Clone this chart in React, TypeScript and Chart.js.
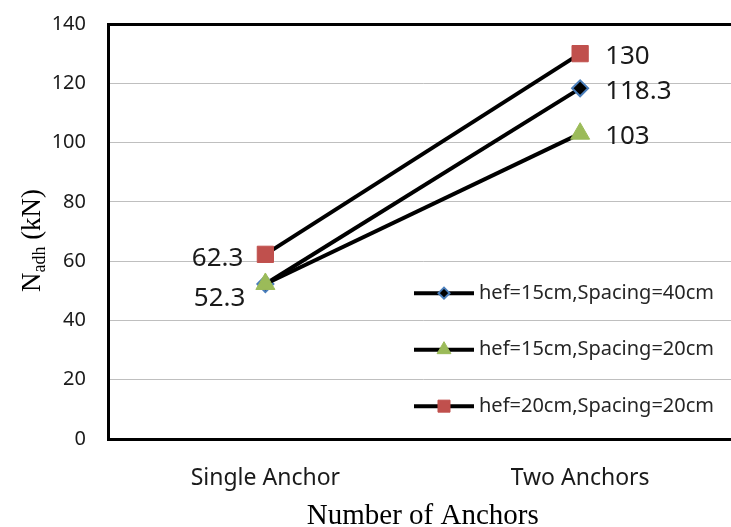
import React, { useEffect, useRef } from "react";
import { Chart, registerables } from "chart.js";
import { drawPoint } from "chart.js/helpers";

Chart.register(...registerables);

const categories = ["Single Anchor", "Two Anchors"];
const seriesNames = [
  "hef=15cm,Spacing=40cm",
  "hef=15cm,Spacing=20cm",
  "hef=20cm,Spacing=20cm",
];
const series1 = [52.3, 118.3];
const series2 = [52.3, 103];
const series3 = [62.3, 130];
const yTicks = [0, 20, 40, 60, 80, 100, 120, 140];
const xTitle = "Number of Anchors";
const yTitleMain = "N";
const yTitleSub = "adh";
const yTitleUnit = " (kN)";

// which points carry a value label, and on which side
const labelPlacement: string[][] = [
  ["none", "right"],
  ["belowLeft", "right"],
  ["left", "right"],
];

const markerStyles = [
  { style: "rectRot", radius: 8, legendRadius: 5.5, fill: "#000000", stroke: "#4a7ebb", bw: 2 },
  { style: "triangle", radius: 11, legendRadius: 8, fill: "#9bbb59", stroke: "#9bbb59", bw: 1 },
  { style: "rect", radius: 11.5, legendRadius: 8.5, fill: "#c0504d", stroke: "#c0504d", bw: 1 },
];

const CANVAS_W = 750;
const CANVAS_H = 527;
const PLOT_TOP = 24;
const PLOT_HEIGHT = 415;

export default function App() {
  const ref = useRef<HTMLCanvasElement | null>(null);

  useEffect(() => {
    const canvas = ref.current;
    if (!canvas) return;
    const values = [series1, series2, series3];

    const titlesPlugin = {
      id: "titles",
      afterDraw(chart: any) {
        const ctx = chart.ctx;
        const area = chart.chartArea;
        ctx.save();
        ctx.fillStyle = "#000";
        // x title
        ctx.font = "29px 'Liberation Serif', serif";
        ctx.textAlign = "center";
        ctx.textBaseline = "middle";
        ctx.fillText(xTitle, (area.left + area.right) / 2, area.bottom + 77);
        // y title (rotated, with subscript)
        const mainFont = "27px 'Liberation Serif', serif";
        const subFont = "18px 'Liberation Serif', serif";
        ctx.font = mainFont;
        const wN = ctx.measureText(yTitleMain).width;
        const wU = ctx.measureText(yTitleUnit).width;
        ctx.font = subFont;
        const wS = ctx.measureText(yTitleSub).width;
        const total = wN + wS + wU;
        ctx.translate(40, (area.top + area.bottom) / 2 + 9);
        ctx.rotate(-Math.PI / 2);
        ctx.textAlign = "left";
        ctx.textBaseline = "alphabetic";
        let x = -total / 2;
        ctx.font = mainFont;
        ctx.fillText(yTitleMain, x, 0);
        x += wN;
        ctx.font = subFont;
        ctx.fillText(yTitleSub, x, 5);
        x += wS;
        ctx.font = mainFont;
        ctx.fillText(yTitleUnit, x, 0);
        ctx.restore();
      },
    };

    const labelsPlugin = {
      id: "valueLabels",
      afterDatasetsDraw(chart: any) {
        const ctx = chart.ctx;
        ctx.save();
        ctx.font = "26px 'Noto Sans', sans-serif";
        ctx.fillStyle = "#1a1a1a";
        ctx.textBaseline = "middle";
        chart.data.datasets.forEach((ds: any, di: number) => {
          const meta = chart.getDatasetMeta(di);
          meta.data.forEach((pt: any, i: number) => {
            const place = labelPlacement[di][i];
            if (place === "none") return;
            const text = String(ds.data[i]);
            if (place === "right") {
              ctx.textAlign = "left";
              ctx.fillText(text, pt.x + 25, pt.y + 3);
            } else if (place === "left") {
              ctx.textAlign = "right";
              ctx.fillText(text, pt.x - 22, pt.y + 4);
            } else if (place === "belowLeft") {
              ctx.textAlign = "right";
              ctx.fillText(text, pt.x - 20, pt.y + 15);
            }
          });
        });
        ctx.restore();
      },
    };

    const legendPlugin = {
      id: "innerLegend",
      afterDatasetsDraw(chart: any) {
        const ctx = chart.ctx;
        const y0 = chart.scales.y.getPixelForValue(49.2);
        ctx.save();
        chart.data.datasets.forEach((ds: any, di: number) => {
          const y = y0 + di * 56.5;
          ctx.strokeStyle = "#000";
          ctx.lineWidth = 4;
          ctx.beginPath();
          ctx.moveTo(414, y);
          ctx.lineTo(474, y);
          ctx.stroke();
          const m = markerStyles[di];
          ctx.fillStyle = m.fill;
          ctx.strokeStyle = m.stroke;
          ctx.lineWidth = m.bw;
          drawPoint(ctx, { pointStyle: m.style, radius: m.legendRadius, rotation: 0, borderWidth: m.bw } as any, 444, y);
          ctx.font = "20px 'Noto Sans', sans-serif";
          ctx.fillStyle = "#262626";
          ctx.textAlign = "left";
          ctx.textBaseline = "middle";
          ctx.fillText(ds.label, 479, y);
        });
        ctx.restore();
      },
    };

    const options: any = {
      responsive: false,
      maintainAspectRatio: false,
      animation: false,
      events: [],
      layout: { padding: { left: 0, right: 10, top: PLOT_TOP, bottom: 0 } },
      plugins: {
        legend: { display: false },
        tooltip: { enabled: false },
        title: { display: false },
      },
      scales: {
        x: {
          type: "category",
          offset: true,
          grid: { display: false, drawTicks: false },
          border: { display: true, color: "#000000", width: 3 },
          ticks: {
            color: "#1a1a1a",
            font: { family: "'Noto Sans', sans-serif", size: 23 },
            padding: 26,
            maxRotation: 0,
          },
          afterFit(scale: any) {
            scale.height = 88;
          },
        },
        y: {
          min: 0,
          max: 140,
          afterBuildTicks(scale: any) {
            scale.ticks = yTicks.map((v) => ({ value: v }));
          },
          grid: {
            drawTicks: false,
            color: (c: any) => (c.tick && c.tick.value === 140 ? "#000000" : "#bfbfbf"),
            lineWidth: (c: any) => (c.tick && c.tick.value === 140 ? 3 : 1),
          },
          border: { display: true, color: "#000000", width: 3 },
          ticks: {
            color: "#1a1a1a",
            font: { family: "'Noto Sans', sans-serif", size: 20 },
            padding: 22,
          },
          afterFit(scale: any) {
            scale.width = 108;
          },
        },
      },
    };

    const chart = new Chart(canvas, {
      type: "line",
      data: {
        labels: categories,
        datasets: values.map((v, i) => ({
          label: seriesNames[i],
          data: v,
          order: 3 - i,
          borderColor: "#000000",
          borderWidth: 4,
          pointStyle: markerStyles[i].style as any,
          pointRadius: markerStyles[i].radius,
          pointHoverRadius: markerStyles[i].radius,
          pointBackgroundColor: markerStyles[i].fill,
          pointBorderColor: markerStyles[i].stroke,
          pointBorderWidth: markerStyles[i].bw,
          fill: false,
          tension: 0,
        })),
      },
      options,
      plugins: [titlesPlugin, labelsPlugin, legendPlugin],
    });

    // Give the plot box the reference's height, then slide the canvas so
    // its top edge sits where the reference has it.
    const h0 = chart.chartArea.bottom - chart.chartArea.top;
    const newH = CANVAS_H + Math.round(PLOT_HEIGHT - h0);
    if (newH !== CANVAS_H) chart.resize(CANVAS_W, newH);
    const shift = Math.round(chart.chartArea.top - PLOT_TOP);
    canvas.style.marginTop = `${-shift}px`;

    return () => chart.destroy();
  }, []);

  return (
    <div
      style={{
        position: "fixed",
        left: 0,
        top: 0,
        width: 731,
        height: 527,
        overflow: "hidden",
        background: "#ffffff",
      }}
    >
      <div style={{ width: 800, height: 700 }}>
        <canvas ref={ref} width={CANVAS_W} height={CANVAS_H} style={{ display: "block" }} />
      </div>
    </div>
  );
}
